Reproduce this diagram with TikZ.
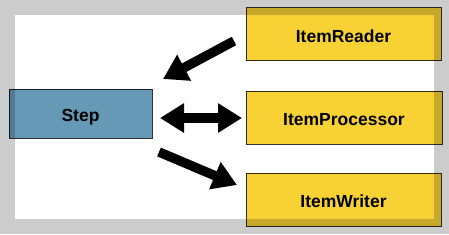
\documentclass[tikz,border=0pt]{standalone}
\usepackage{fontspec}
\setmainfont{Liberation Sans}
\usetikzlibrary{arrows.meta}
\definecolor{bggray}{HTML}{CCCCCC}
\definecolor{boxyellow}{HTML}{F8D235}
\definecolor{boxblue}{HTML}{6699B5}
\definecolor{boxline}{HTML}{333333}
\begin{document}
\begin{tikzpicture}[x=1pt,y=-1pt,
  box/.style={draw=boxline, line width=0.8pt, blend mode=multiply, inner sep=0pt,
    text height=18pt, text depth=2pt,
    font=\bfseries\fontsize{17.5}{20}\selectfont, text=black},
  yellowbox/.style={box, fill=boxyellow, minimum width=195pt, minimum height=53pt},
  bluebox/.style={box, fill=boxblue, minimum width=143pt, minimum height=49pt},
  bigarrow/.style={line width=9.5pt, -{Triangle[length=24pt,width=28pt]}},
  bigdarrow/.style={line width=9.5pt, {Triangle[length=24pt,width=28pt]}-{Triangle[length=24pt,width=28pt]}}]
\useasboundingbox (0,0) rectangle (449,234);
\fill[bggray] (0,0) rectangle (449,234);
\fill[white] (15,15) rectangle (434,219);
\node[bluebox] (step) at (80.5,113.5) {Step};
\node[yellowbox] (reader) at (343.5,34) {ItemReader};
\node[yellowbox, minimum width=196pt] (processor) at (344,117.5) {ItemProcessor};
\node[yellowbox] (writer) at (343.5,199.5) {ItemWriter};
\coordinate (r1) at (234,41);
\coordinate (r2) at (163,79);
\coordinate (p1) at (160,118);
\coordinate (p2) at (242,118);
\coordinate (w1) at (159,152);
\coordinate (w2) at (237,185);
\draw[bigarrow] (r1) -- (r2);
\draw[bigdarrow] (p1) -- (p2);
\draw[bigarrow] (w1) -- (w2);
\end{tikzpicture}
\end{document}
